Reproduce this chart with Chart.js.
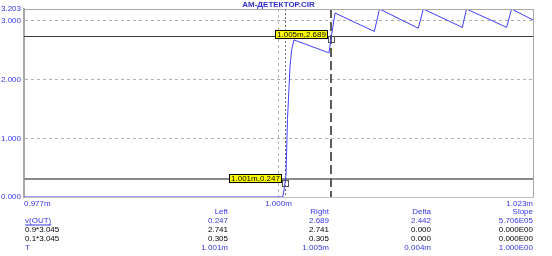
<!DOCTYPE html>
<html>
<head>
<meta charset="utf-8">
<script src="https://cdn.jsdelivr.net/npm/chart.js@4.4.0/dist/chart.umd.min.js"></script>
<style>
    html, body { margin: 0; padding: 0; background: #ffffff; }
</style>
</head>
<body>
<canvas id="canvaDetector" width="552" height="256"></canvas>
<script>
// datos (tiempo en ms, tension en V)
const tiempo = [0.977, 1.00038, 1.00050, 1.00059, 1.00068, 1.00081, 1.00090, 1.00104, 1.00119, 1.00140,
    1.00456, 1.00474, 1.00511, 1.00866, 1.00913, 1.01263, 1.01309, 1.01661, 1.01699, 1.02062, 1.02106, 1.023];
const vOut = [0, 0, 0.12, 0.247, 0.38, 1.32, 1.66, 2.22, 2.51, 2.676,
    2.455, 2.689, 3.135, 2.82, 3.203, 2.875, 3.203, 2.89, 3.203, 2.89, 3.203, 3.016];

const ticksX = [0.977, 1.000, 1.023];
const ticksY = [0, 1, 2, 3, 3.203];

// niveles 0.9*3.045 y 0.1*3.045
const niveles = [2.741, 0.305];

// cursores izquierdo y derecho
const cursoresT = [1.00059, 1.00474];
const cursoresV = [0.247, 2.689];
const cursoresTexto = ["1.001m,0.247", "1.005m,2.689"];

// tabla inferior
const columnasTabla = ["Left", "Right", "Delta", "Slope"];
const filasTabla = ["v(OUT)", "0.9*3.045", "0.1*3.045", "T"];
const valoresLeft = ["0.247", "2.741", "0.305", "1.001m"];
const valoresRight = ["2.689", "2.741", "0.305", "1.005m"];
const valoresDelta = ["2.442", "0.000", "0.000", "0.004m"];
const valoresSlope = ["5.706E05", "0.000E00", "0.000E00", "1.000E00"];

const titulo = "АМ-ДЕТЕКТОР.CIR";
const fuente = "Liberation Sans";
const azul = "#3535e8";

const pluginCursores = {
    id: "cursores",
    beforeDatasetsDraw(chart) {
        const ctx = chart.ctx;
        const area = chart.chartArea;
        const escX = chart.scales.x;
        const escY = chart.scales.y;
        ctx.save();
        //lineas horizontales de los niveles
        const estilos = [["#3c3c3c", 1], ["#8a8a8a", 2]];
        niveles.forEach((nivel, i) => {
            const py = Math.round(escY.getPixelForValue(nivel)) + (estilos[i][1] == 1 ? 0.5 : 0);
            ctx.strokeStyle = estilos[i][0];
            ctx.lineWidth = estilos[i][1];
            ctx.beginPath();
            ctx.moveTo(area.left, py);
            ctx.lineTo(area.right, py);
            ctx.stroke();
        });
        //cursor izquierdo, punteado fino
        let px = Math.round(escX.getPixelForValue(cursoresT[0])) + 0.5;
        ctx.strokeStyle = "#6a6a6a";
        ctx.lineWidth = 1;
        ctx.setLineDash([2, 2]);
        ctx.beginPath();
        ctx.moveTo(px, area.top);
        ctx.lineTo(px, area.bottom);
        ctx.stroke();
        //cursor derecho, trazos largos
        px = Math.round(escX.getPixelForValue(cursoresT[1]));
        ctx.strokeStyle = "#5c5c5c";
        ctx.lineWidth = 2;
        ctx.setLineDash([9, 4]);
        ctx.beginPath();
        ctx.moveTo(px, area.top);
        ctx.lineTo(px, area.bottom);
        ctx.stroke();
        ctx.restore();
    },
    afterDraw(chart) {
        const ctx = chart.ctx;
        const area = chart.chartArea;
        const escX = chart.scales.x;
        const escY = chart.scales.y;
        ctx.save();
        //marco superior y derecho
        ctx.strokeStyle = "#a8a8a8";
        ctx.lineWidth = 1;
        ctx.beginPath();
        ctx.moveTo(area.left, area.top + 0.5);
        ctx.lineTo(area.right + 0.5, area.top + 0.5);
        ctx.lineTo(area.right + 0.5, area.bottom);
        ctx.stroke();

        //titulo
        ctx.fillStyle = "#3030c8";
        ctx.font = "bold 8px '" + fuente + "'";
        ctx.textAlign = "center";
        ctx.textBaseline = "middle";
        ctx.fillText(titulo, (area.left + area.right) / 2, 4.5);

        //marcas y etiquetas amarillas de los cursores
        ctx.font = "8px '" + fuente + "'";
        cursoresT.forEach((t, i) => {
            const px = escX.getPixelForValue(t);
            const py = escY.getPixelForValue(cursoresV[i]);
            ctx.strokeStyle = "#505050";
            ctx.lineWidth = 1;
            ctx.strokeRect(Math.round(px) - 2.5, Math.round(py) - 2.5, 6, 6);
            const ancho = Math.ceil(ctx.measureText(cursoresTexto[i]).width) + 4;
            const derecha = Math.round(px) - 3;
            const abajo = Math.round(py);
            ctx.fillStyle = "#ffff00";
            ctx.fillRect(derecha - ancho, abajo - 9, ancho, 9);
            ctx.strokeStyle = "#000000";
            ctx.strokeRect(derecha - ancho + 0.5, abajo - 8.5, ancho - 1, 8);
            ctx.fillStyle = "#000000";
            ctx.textAlign = "center";
            ctx.fillText(cursoresTexto[i], derecha - ancho / 2, abajo - 4.5);
        });

        //tabla de mediciones
        const columnasX = [228, 329, 431, 533];
        const filasY = [220.5, 229.3, 238.3, 247.3];
        const colores = [azul, "#000000", "#000000", azul];
        ctx.textBaseline = "middle";
        ctx.textAlign = "right";
        ctx.fillStyle = azul;
        columnasTabla.forEach((c, j) => ctx.fillText(c, columnasX[j], 211.5));
        filasTabla.forEach((fila, i) => {
            ctx.fillStyle = colores[i];
            ctx.textAlign = "left";
            ctx.fillText(fila, 25, filasY[i]);
            if (i == 0) {
                const w = ctx.measureText(fila).width;
                ctx.fillRect(25, filasY[i] + 4, w, 1);
            }
            ctx.textAlign = "right";
            [valoresLeft, valoresRight, valoresDelta, valoresSlope].forEach((col, j) => {
                ctx.fillText(col[i], columnasX[j], filasY[i]);
            });
        });
        ctx.restore();
    }
};

document.addEventListener("DOMContentLoaded", function() {
    const graficoDetector = new Chart(document.getElementById("canvaDetector"), {
        type: "line",
        data: {
            datasets: [{
                label: "v(OUT)",
                data: tiempo.map((t, i) => ({ x: t, y: vOut[i] })),
                borderColor: "#4040ff",
                borderWidth: 1,
                pointRadius: 0,
                tension: 0,
                fill: false
            }]
        },
        options: {
            responsive: false,
            animation: false,
            layout: {
                padding: { left: 0, top: 9, right: 19, bottom: 46 }
            },
            plugins: {
                legend: { display: false },
                tooltip: { enabled: false }
            },
            scales: {
                x: {
                    type: "linear",
                    min: ticksX[0],
                    max: ticksX[ticksX.length - 1],
                    afterBuildTicks: escala => { escala.ticks = ticksX.map(v => ({ value: v })); },
                    afterFit: escala => { escala.height = 13; },
                    grid: {
                        drawTicks: false,
                        color: ctx => (ctx.tick && ctx.tick.value == 1.000) ? "#b8b8b8" : "rgba(0,0,0,0)"
                    },
                    border: { color: "#c0c0c0", width: 1, dash: [3, 3] },
                    ticks: {
                        align: "inner",
                        padding: 2,
                        autoSkip: false,
                        maxRotation: 0,
                        color: azul,
                        font: { family: fuente, size: 8 },
                        callback: v => v.toFixed(3) + "m"
                    }
                },
                y: {
                    min: ticksY[0],
                    max: ticksY[ticksY.length - 1],
                    afterBuildTicks: escala => { escala.ticks = ticksY.map(v => ({ value: v })); },
                    afterFit: escala => { escala.width = 24; },
                    grid: {
                        drawTicks: false,
                        color: ctx => (ctx.tick && ctx.tick.value > 0 && ctx.tick.value < 3.2) ? "#b0b0b0" : "rgba(0,0,0,0)"
                    },
                    border: { color: "#a8a8a8", width: 2, dash: [3, 3] },
                    ticks: {
                        padding: 3,
                        autoSkip: false,
                        color: azul,
                        font: { family: fuente, size: 8 },
                        callback: v => v.toFixed(3)
                    }
                }
            }
        },
        plugins: [pluginCursores]
    });
});
</script>
</body>
</html>
